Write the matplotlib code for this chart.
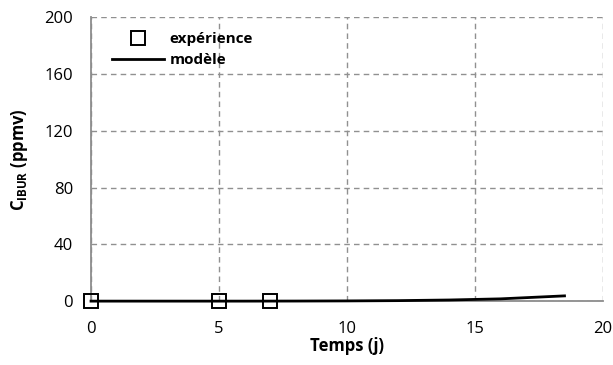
import matplotlib.pyplot as plt

plt.rcParams['font.family'] = ['Open Sans', 'DejaVu Sans']
plt.rcParams['mathtext.fontset'] = 'custom'
plt.rcParams['mathtext.rm'] = 'Open Sans'
plt.rcParams['mathtext.bf'] = 'Open Sans:bold'

# experimental points
exp_t = [0, 5, 7]
exp_c = [0, 0, 0]

# model curve
mod_t = [0, 2, 4, 6, 8, 10, 12, 14, 16, 18.5]
mod_c = [0, 0, 0, 0, 0.05, 0.15, 0.35, 0.8, 1.6, 3.7]

xticks = [0, 5, 10, 15, 20]
yticks = [0, 40, 80, 120, 160, 200]

fig = plt.figure(figsize=(6.13, 3.65), dpi=100)
ax = fig.add_axes([0.1485, 0.175, 0.835, 0.778])

ax.plot(exp_t, exp_c, 's', mfc='none', mec='black', ms=10, mew=1.4,
        label='expérience', clip_on=False, zorder=4)
ax.plot(mod_t, mod_c, '-', color='black', lw=2, label='modèle',
        clip_on=False, zorder=3)

ax.set_xlim(0, 20)
ax.set_ylim(0, 200)
ax.set_xticks(xticks)
ax.set_yticks(yticks)
ax.tick_params(length=0, labelsize=12)
ax.tick_params(axis='x', pad=14)
ax.tick_params(axis='y', pad=13)
ax.grid(True, linestyle=(0, (4, 3)), color='#909090', lw=1)
ax.set_axisbelow(True)

for s in ['top', 'right']:
    ax.spines[s].set_visible(False)
for s in ['left', 'bottom']:
    ax.spines[s].set_color('#8c8c8c')
    ax.spines[s].set_linewidth(1.3)

ax.set_xlabel('Temps (j)', fontsize=12, fontweight='bold', labelpad=0)
ax.set_ylabel(r'$\mathbf{C_{IBUR}}$ (ppmv)', fontsize=12,
              fontweight='bold', labelpad=10)

ax.legend(loc='upper left', bbox_to_anchor=(0.02, 0.985), frameon=False,
          prop={'weight': 'bold', 'size': 11}, handlelength=3.4,
          handletextpad=0.35, labelspacing=0.45, borderaxespad=0.3)

fig.savefig('out.png', dpi=100)
